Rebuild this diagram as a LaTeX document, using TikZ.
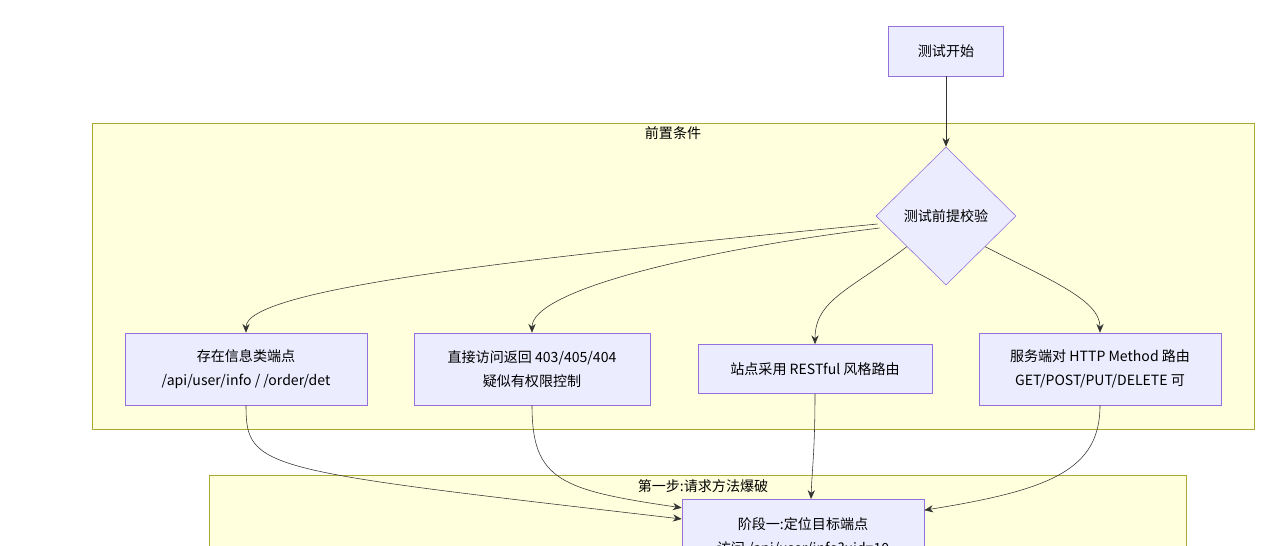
\documentclass[tikz,border=0pt]{standalone}
\usepackage{fontspec}
\setmainfont{Noto Sans CJK SC}
\usetikzlibrary{shapes.geometric, arrows.meta}
\definecolor{nodefill}{RGB}{236,236,255}
\definecolor{nodeline}{RGB}{147,112,219}
\definecolor{clusterfill}{RGB}{255,255,222}
\definecolor{clusterline}{RGB}{170,170,51}
\definecolor{edgecol}{RGB}{51,51,51}
\tikzset{
  box/.style={draw=nodeline, fill=nodefill, rectangle, align=center, inner sep=0pt, font=\fontsize{10}{17}\selectfont},
  check/.style={draw=nodeline, fill=nodefill, diamond, aspect=1.01, inner sep=0pt, minimum width=3.5cm, minimum height=3.45cm, font=\fontsize{10}{12}\selectfont},
  cluster/.style={draw=clusterline, fill=clusterfill},
  flow/.style={draw=edgecol, -{Stealth[length=2.2mm,width=1.8mm]}, thin}
}
\begin{document}
\begin{tikzpicture}[x=0.025cm, y=-0.025cm]
  \useasboundingbox (0,0) rectangle (1280,545);
  \clip (0,0) rectangle (1280,545);
  % Clusters
  \draw[cluster] (92,123) rectangle (1254,429);
  \node[font=\fontsize{10}{12}\selectfont] (c1lbl) at (673,133) {前置条件};
  \draw[cluster] (209,475) rectangle (1186,560);
  \node[font=\fontsize{10}{12}\selectfont] (c2lbl) at (703,486) {第一步:请求方法爆破};

  % Nodes
  \node[box, minimum width=2.875cm, minimum height=1.25cm] (start) at (946,51) {测试开始};
  \node[check] (pre) at (946,216) {测试前提校验};
  \node[box, minimum width=6.05cm, minimum height=1.8cm] (info) at (246,369) {存在信息类端点\\/api/user/info / /order/det};
  \node[box, minimum width=5.9cm, minimum height=1.8cm] (deny) at (532,369) {直接访问返回 403/405/404\\疑似有权限控制};
  \node[box, minimum width=5.85cm, minimum height=1.225cm] (rest) at (815,369) {站点采用 RESTful 风格路由};
  \node[box, minimum width=6.05cm, minimum height=1.8cm] (method) at (1100,369) {服务端对 HTTP Method 路由\\GET/POST/PUT/DELETE 可};
  \node[box, minimum width=6.05cm, minimum height=1.8cm, anchor=north] (locate) at (803,499) {\\[-6pt]阶段一:定位目标端点\\访问 /api/user/info?uid=10};

  % Edges
  \draw[flow] (start) -- (pre);
  \draw[flow] (pre.west) ++(2,8) .. controls (500,260) and (246,290) .. (info.north);
  \draw[flow] (pre.west) ++(4,12) .. controls (700,250) and (532,290) .. (deny.north);
  \draw[flow] (pre.south west) ++(-4,-4) .. controls (850,290) and (815,300) .. (rest.north);
  \draw[flow] (pre.south east) ++(4,-4) .. controls (1050,280) and (1100,300) .. (method.north);
  \draw[flow] (info.south) .. controls (246,470) and (260,470) .. ([yshift=-0.5cm]locate.north west);
  \draw[flow] (deny.south) .. controls (532,480) and (560,490) .. ([yshift=-0.22cm]locate.north west);
  \draw[flow] (rest.south) .. controls (815,450) and (812,470) .. ([xshift=0.2cm]locate.north);
  \draw[flow] (method.south) .. controls (1100,470) and (1050,490) .. ([yshift=-0.28cm]locate.north east);
\end{tikzpicture}
\end{document}
